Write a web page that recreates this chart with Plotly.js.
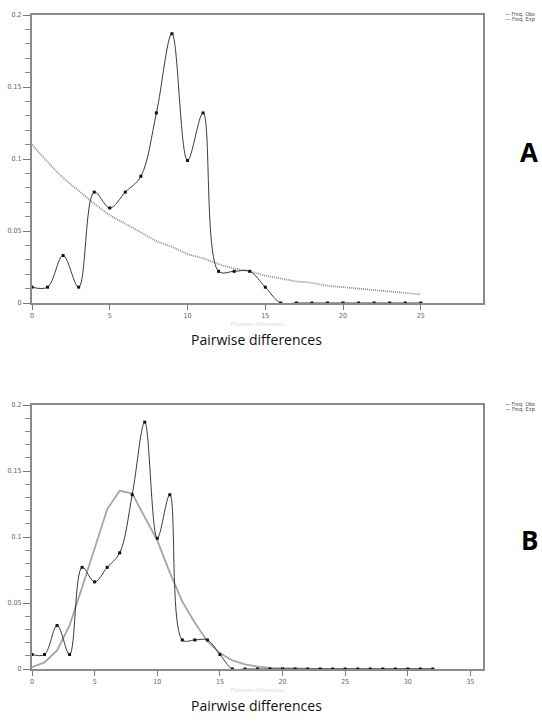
<!DOCTYPE html>
<html>
<head>
<meta charset="utf-8">
<script src="https://cdn.plot.ly/plotly-3.0.1.min.js"></script>
<style>html,body{margin:0;padding:0;background:#fff;}#chart{width:542px;height:722px;}</style>
</head>
<body>
<div id="chart"></div>
<script>
// Pairwise differences (x values)
const diffsA = [0,1,2,3,4,5,6,7,8,9,10,11,12,13,14,15,16,17,18,19,20,21,22,23,24,25];
const diffsB = [0,1,2,3,4,5,6,7,8,9,10,11,12,13,14,15,16,17,18,19,20,21,22,23,24,25,26,27,28,29,30,31,32];
// Observed frequencies (same in A and B)
const obs = [0.011,0.011,0.033,0.011,0.077,0.066,0.077,0.088,0.132,0.187,0.099,0.132,0.022,0.022,0.022,0.011,0,0,0,0,0,0,0,0,0,0,0,0,0,0,0,0,0];
// Expected frequencies, panel A
const expA = [0.110,0.098,0.087,0.078,0.069,0.061,0.055,0.049,0.043,0.039,0.034,0.031,0.027,0.024,0.022,0.019,0.017,0.015,0.014,0.012,0.011,0.010,0.009,0.008,0.007,0.006];
// Expected frequencies, panel B
const expB = [0.0013,0.0050,0.0140,0.0330,0.0620,0.0920,0.1210,0.1350,0.1330,0.1150,0.0975,0.0730,0.0510,0.0350,0.0210,0.0120,0.0065,0.0035,0.0018,0.0009,0.0005,0.0003,0.0002,0.0001,0,0,0,0,0,0,0,0,0];
const legendLabels = ["\u2014 Freq. Obs", "--- Freq. Exp"];
const xTitle = "Pairwise differences";
const panelLabels = ["A", "B"];

const obsLine = {color:'#3a3a3a', width:1, shape:'spline', smoothing:1};
const obsMarker = {symbol:'square', size:3, color:'#111'};

const traces = [
  {x: diffsA, y: expA, xaxis:'x', yaxis:'y', mode:'lines', line:{color:'#8e8e8e', width:1.8, dash:'1px,1px', shape:'spline', smoothing:1}, hoverinfo:'skip'},
  {x: diffsA, y: obs.slice(0, diffsA.length), xaxis:'x', yaxis:'y', mode:'lines+markers', line:obsLine, marker:obsMarker, cliponaxis:false},
  {x: diffsB, y: expB, xaxis:'x2', yaxis:'y2', mode:'lines', line:{color:'#a5a5a5', width:1.8}, hoverinfo:'skip'},
  {x: diffsB, y: obs.slice(0, diffsB.length), xaxis:'x2', yaxis:'y2', mode:'lines+markers', line:obsLine, marker:obsMarker, cliponaxis:false}
];

const tickFont = {family:'"Liberation Sans Narrow", "DejaVu Sans Condensed", sans-serif', size:7, color:'#666'};
function xax(range, anchor) {
  return {domain:[32/542, 483/542], range:range, anchor:anchor, dtick:5, tick0:0,
    ticks:'outside', ticklen:5, tickcolor:'#777', tickwidth:1,
    showline:true, linecolor:'#8a8a8a', linewidth:2, mirror:true, showgrid:false, zeroline:false,
    tickfont:tickFont, title:{text:xTitle, font:{size:6, color:'#dcdcdc', family:'Liberation Sans Narrow, sans-serif'}, standoff:2}};
}
function yax(domain, anchor) {
  return {domain:domain, range:[0,0.2], anchor:anchor, dtick:0.05, tick0:0,
    ticks:'outside', ticklen:7, tickcolor:'#777', tickwidth:1,
    minor:{dtick:0.01, ticks:'outside', ticklen:5, tickcolor:'#888', tickwidth:1, showgrid:false},
    showline:true, linecolor:'#8a8a8a', linewidth:2, mirror:true, showgrid:false, zeroline:false,
    tickfont:tickFont};
}

const legFont = {family:'"Liberation Sans Narrow", "DejaVu Sans Condensed", sans-serif', size:5.5, color:'#444'};
const annotations = [
  {xref:'paper', yref:'paper', x:256/542, y:1-339/722, text:xTitle, showarrow:false, xanchor:'center', yanchor:'middle', font:{family:'"Open Sans", sans-serif', size:14, color:'#111'}},
  {xref:'paper', yref:'paper', x:256/542, y:1-705/722, text:xTitle, showarrow:false, xanchor:'center', yanchor:'middle', font:{family:'"Open Sans", sans-serif', size:14, color:'#111'}},
  {xref:'paper', yref:'paper', x:529/542, y:1-152/722, text:panelLabels[0], showarrow:false, xanchor:'center', yanchor:'middle', font:{family:'"Open Sans", sans-serif', size:26, color:'#000', weight:'bold'}},
  {xref:'paper', yref:'paper', x:529/542, y:1-540/722, text:panelLabels[1], showarrow:false, xanchor:'center', yanchor:'middle', font:{family:'"Open Sans", sans-serif', size:26, color:'#000', weight:'bold'}},
  {xref:'paper', yref:'paper', x:503/542, y:1-14/722, text:legendLabels[0], showarrow:false, xanchor:'left', yanchor:'middle', font:legFont},
  {xref:'paper', yref:'paper', x:503/542, y:1-19.5/722, text:legendLabels[1], showarrow:false, xanchor:'left', yanchor:'middle', font:legFont},
  {xref:'paper', yref:'paper', x:503/542, y:1-404/722, text:legendLabels[0], showarrow:false, xanchor:'left', yanchor:'middle', font:legFont},
  {xref:'paper', yref:'paper', x:503/542, y:1-409.5/722, text:legendLabels[1], showarrow:false, xanchor:'left', yanchor:'middle', font:legFont}
];

const layout = {
  width:542, height:722, autosize:false,
  margin:{l:0, r:0, t:0, b:0, pad:0},
  paper_bgcolor:'#fff', plot_bgcolor:'#fff',
  showlegend:false,
  xaxis: xax([0,29], 'y'),
  yaxis: yax([1-303/722, 1-15/722], 'x'),
  xaxis2: xax([0,36], 'y2'),
  yaxis2: yax([1-669/722, 1-405/722], 'x2'),
  annotations: annotations
};

Plotly.newPlot('chart', traces, layout, {displayModeBar:false, staticPlot:true});
</script>
</body>
</html>
